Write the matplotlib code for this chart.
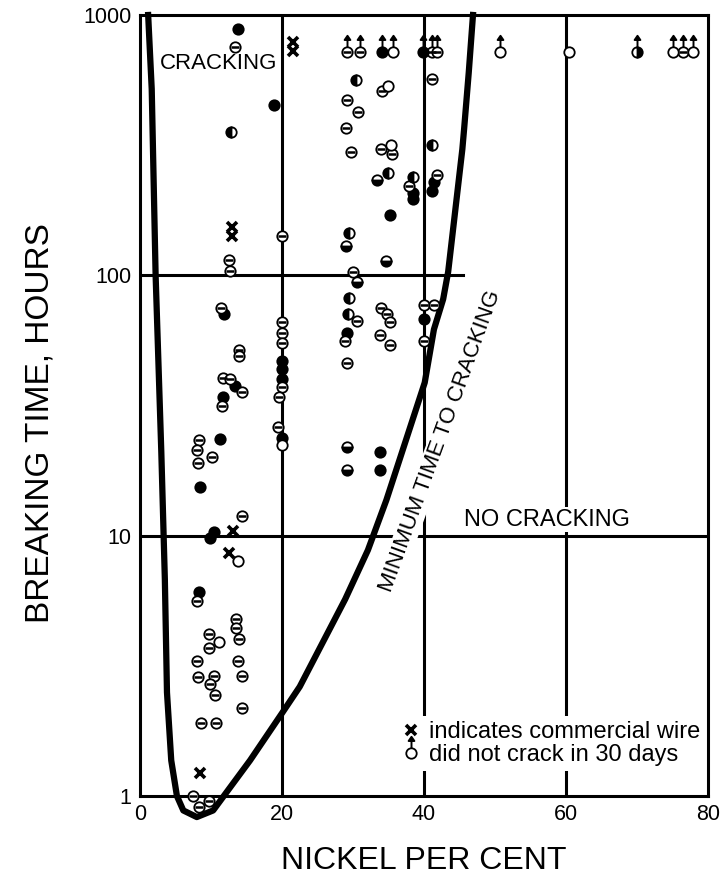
import numpy as np
import matplotlib.pyplot as plt
from matplotlib.path import Path
from matplotlib.lines import Line2D
from matplotlib.ticker import NullLocator
from matplotlib.legend_handler import HandlerTuple

plt.rcParams['font.family'] = ['Liberation Sans', 'DejaVu Sans']

# minimum time to cracking curve (nickel %, hours)
curve_ni = [1.15, 1.65, 2.2, 3.0, 3.5, 3.8, 4.4, 5.2, 6.1, 8.0, 10.3, 11.8,
            15.5, 20.0, 22.5, 28.9, 32.1, 34.7, 40.1, 41.4, 42.7, 43.4, 45.4, 45.65, 46.3, 46.9]
curve_hr = [1000, 520, 100, 21, 6.8, 2.5, 1.37, 1.0, 0.88, 0.83, 0.88, 1.0,
            1.37, 2.08, 2.63, 5.7, 8.8, 13.7, 38.7, 62, 81, 103, 305, 365, 600, 1000]

# filled circles
full_ni = [13.8, 18.9, 38.5, 38.5, 41.4, 41.1, 35.2, 40.0, 29.2, 33.8, 33.8,
           20.0, 20.0, 20.0, 20.0, 11.8, 13.4, 11.7, 11.3, 8.5, 10.4, 9.9, 8.3]
full_hr = [884, 451, 208, 196, 228, 210, 170, 68, 60, 20.9, 17.8,
           47, 43.5, 40, 23.8, 71, 37.6, 34, 23.6, 15.4, 10.3, 9.8, 6.1]

# circles with a bar across
theta_ni = [13.4, 34.1, 29.2, 30.7, 29.0, 41.1, 29.7, 33.9, 35.5, 37.9, 41.8, 20.0,
            30.0, 30.6, 33.9, 34.8, 35.2, 40.0, 41.4, 28.9, 33.8, 35.2, 40.0, 29.2,
            20.0, 20.0, 20.0, 20.0, 19.6, 19.4, 11.4, 14.0, 13.9, 11.7, 12.7, 14.4, 11.5,
            8.3, 8.0, 10.1, 8.2, 14.4, 12.5, 12.7,
            8.0, 13.5, 13.5, 14.0, 9.7, 9.7, 8.0, 13.8, 8.2, 10.4, 9.9, 14.4, 10.6, 14.4,
            8.6, 10.7, 7.5, 9.7, 8.3]
theta_hr = [753, 510, 471, 424, 367, 567, 297, 305, 292, 220, 243, 141,
            103, 66.5, 75, 71, 66, 77, 77, 56, 59, 54, 56, 46,
            66, 60, 55, 37.4, 34, 26.2, 75, 51.5, 49, 40.5, 40, 35.5, 31.6,
            23.3, 21.4, 20, 19.1, 11.9, 115, 104,
            5.6, 4.8, 4.4, 4.0, 4.2, 3.7, 3.3, 3.3, 2.87, 2.9, 2.7, 2.9, 2.45, 2.18,
            1.91, 1.91, 1.0, 0.96, 0.91]

# open circles
open_ni = [35.4, 34.9, 60.4, 20.0, 13.8, 11.1]
open_hr = [316, 533, 720, 22.2, 8.0, 3.9]

# half filled circles
left_ni = [12.8, 30.4, 41.1, 34.9, 38.5, 29.4, 29.4, 29.3]
left_hr = [355, 563, 316, 247, 238, 146, 82, 71]
bottom_ni = [33.4, 29.0, 34.6, 30.6, 29.2, 29.2]
bottom_hr = [232, 130, 114, 94, 22, 17.9]

# commercial wire
wire_ni = [21.5, 21.5, 12.9, 12.9, 13.1, 12.5, 8.5]
wire_hr = [790, 730, 154, 141, 10.4, 8.6, 1.23]

# did not crack in 30 days
nocrack_ni = [29.2, 31.0, 34.1, 35.7, 39.9, 41.1, 41.8, 50.7, 70.0, 75.1, 76.5, 77.9]
nocrack_hr = [720] * 12
nocrack_kind = ['theta', 'theta', 'full', 'open', 'full', 'theta', 'theta',
                'open', 'right', 'open', 'theta', 'open']

MS = 7.5
MEW = 1.3

# arrow drawn above a circle
arrow = Path([(0, 1.0), (0, 2.5), (-0.55, 2.4), (0.55, 2.4), (0, 3.2), (-0.55, 2.4)],
             [Path.MOVETO, Path.LINETO, Path.MOVETO, Path.LINETO, Path.LINETO, Path.CLOSEPOLY])
ARROW_MS = MS * 3.2

fig = plt.figure(figsize=(7.21, 8.86), dpi=100)
ax = fig.add_axes([140 / 721, 1 - 796 / 886, 568 / 721, 781 / 886])
ax.set_yscale('log')
ax.set_xlim(0, 80)
ax.set_ylim(1, 1000)

for s in ax.spines.values():
    s.set_linewidth(2.2)

# grid lines
for xv in [20, 40, 60]:
    ax.axvline(xv, color='black', lw=2.2, zorder=1)
ax.axhline(100, xmax=45.5 / 80, color='black', lw=2.2, zorder=1)
ax.axhline(10, color='black', lw=2.2, zorder=1)

ax.plot(curve_ni, curve_hr, color='black', lw=4.5, clip_on=False, zorder=4,
        solid_joinstyle='round')


def circles(x, y, kind):
    kw = dict(ls='none', marker='o', ms=MS, mec='black', mew=MEW, clip_on=False, zorder=5)
    if kind == 'full':
        ax.plot(x, y, mfc='black', **kw)
    elif kind == 'open':
        ax.plot(x, y, mfc='white', **kw)
    elif kind == 'theta':
        ax.plot(x, y, mfc='white', **kw)
        ax.plot(x, y, ls='none', marker='_', ms=MS * 0.85, mew=1.8, color='black',
                clip_on=False, zorder=6)
    else:
        ax.plot(x, y, mfc='black', mfcalt='white', fillstyle=kind, **kw)


circles(full_ni, full_hr, 'full')
circles(theta_ni, theta_hr, 'theta')
circles(open_ni, open_hr, 'open')
circles(left_ni, left_hr, 'left')
circles(bottom_ni, bottom_hr, 'bottom')

for kind in set(nocrack_kind):
    xs = [x for x, k in zip(nocrack_ni, nocrack_kind) if k == kind]
    ys = [y for y, k in zip(nocrack_hr, nocrack_kind) if k == kind]
    circles(xs, ys, kind)
ax.plot(nocrack_ni, nocrack_hr, ls='none', marker=arrow, ms=ARROW_MS, mfc='black',
        mec='black', mew=1.4, clip_on=False, zorder=6)

ax.plot(wire_ni, wire_hr, ls='none', marker='x', ms=7, mew=2.6, color='black',
        clip_on=False, zorder=6)

# labels inside the plot
box = dict(facecolor='white', edgecolor='none', pad=1)
ax.text(11, 650, 'CRACKING', fontsize=16, ha='center', va='center', bbox=box, zorder=3)
ax.text(57.3, 11.5, 'NO CRACKING', fontsize=17, ha='center', va='center', bbox=box, zorder=3)
ax.text(42.25, 23, 'MINIMUM TIME TO CRACKING', fontsize=16, ha='center', va='center',
        rotation=70, rotation_mode='anchor', bbox=box, zorder=3)

# legend
h_wire = Line2D([], [], ls='none', marker='x', ms=7, mew=2.6, color='black')
h_circ = Line2D([], [], ls='none', marker='o', ms=MS, mfc='white', mec='black', mew=MEW)
h_arrow = Line2D([], [], ls='none', marker=arrow, ms=ARROW_MS, mfc='black', mec='black', mew=1.4)
leg = ax.legend([h_wire, (h_circ, h_arrow)],
                ['indicates commercial wire', 'did not crack in 30 days'],
                handler_map={tuple: HandlerTuple(ndivide=1)},
                loc='lower right', bbox_to_anchor=(0.995, 0.032), fontsize=17,
                frameon=True, fancybox=False, handlelength=0.8, handletextpad=0.35,
                labelspacing=0.05, borderpad=0.2, borderaxespad=0.0)
leg.get_frame().set_edgecolor('none')
leg.get_frame().set_facecolor('white')
leg.get_frame().set_alpha(1)
leg.set_zorder(7)

ax.set_xticks([0, 20, 40, 60, 80])
ax.set_yticks([1, 10, 100, 1000], labels=['1', '10', '100', '1000'])
ax.yaxis.set_minor_locator(NullLocator())
ax.tick_params(length=0, labelsize=15.5, pad=6)
ax.set_xlabel('NICKEL PER CENT', fontsize=23, labelpad=15)
ax.set_ylabel('BREAKING TIME, HOURS', fontsize=24)
ax.yaxis.set_label_coords(-0.148, 0.477)

fig.savefig('out.png', dpi=100)
